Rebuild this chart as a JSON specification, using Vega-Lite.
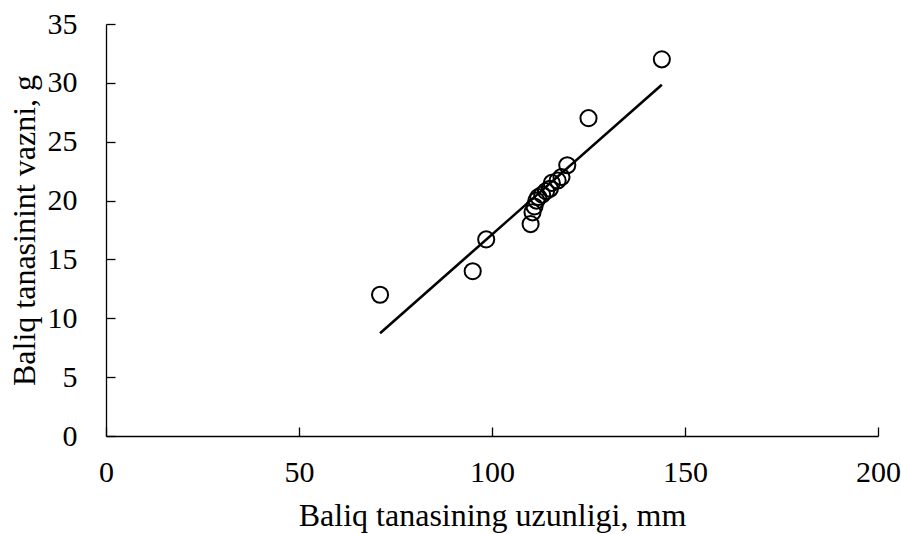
{
  "$schema": "https://vega.github.io/schema/vega-lite/v6.json",
  "width": 772,
  "height": 412,
  "autosize": {"type": "none"},
  "padding": {"left": 106, "top": 24, "right": 23, "bottom": 98},
  "background": "white",
  "config": {
    "view": {"stroke": null},
    "axis": {
      "grid": false,
      "domainColor": "black",
      "domainWidth": 1.3,
      "tickColor": "black",
      "tickWidth": 1.3,
      "labelFont": "Liberation Serif",
      "labelFontSize": 30,
      "labelColor": "black",
      "labelFlush": false,
      "labelOverlap": false,
      "titleFont": "Liberation Serif",
      "titleFontSize": 32,
      "titleFontWeight": "normal",
      "titleColor": "black"
    }
  },
  "data": {
    "values": [
      {"length": 71, "weight": 12},
      {"length": 95, "weight": 14},
      {"length": 98.5, "weight": 16.7},
      {"length": 110, "weight": 18},
      {"length": 110.5, "weight": 19},
      {"length": 111, "weight": 19.5},
      {"length": 111.5, "weight": 20},
      {"length": 112, "weight": 20.3},
      {"length": 113, "weight": 20.5},
      {"length": 114, "weight": 20.8},
      {"length": 115, "weight": 21},
      {"length": 115.5, "weight": 21.5},
      {"length": 117, "weight": 21.7},
      {"length": 118, "weight": 22},
      {"length": 119.5, "weight": 23},
      {"length": 125, "weight": 27},
      {"length": 144, "weight": 32}
    ]
  },
  "layer": [
    {
      "mark": {"type": "point", "shape": "circle", "filled": false, "color": "black", "strokeWidth": 2, "size": 260, "opacity": 1},
      "encoding": {
        "x": {
          "field": "length", "type": "quantitative",
          "scale": {"domain": [0, 200], "nice": false, "zero": true},
          "axis": {"values": [0, 50, 100, 150, 200], "title": "Baliq tanasining uzunligi, mm", "tickSize": -9, "labelPadding": 30, "titlePadding": 13}
        },
        "y": {
          "field": "weight", "type": "quantitative",
          "scale": {"domain": [0, 35], "nice": false},
          "axis": {"values": [0, 5, 10, 15, 20, 25, 30, 35], "title": "Baliq tanasinint vazni, g", "tickSize": -9, "labelPadding": 38, "titlePadding": 6}
        }
      }
    },
    {
      "transform": [{"regression": "weight", "on": "length"}],
      "mark": {"type": "line", "color": "black", "strokeWidth": 2.6},
      "encoding": {
        "x": {"field": "length", "type": "quantitative"},
        "y": {"field": "weight", "type": "quantitative"}
      }
    }
  ]
}
